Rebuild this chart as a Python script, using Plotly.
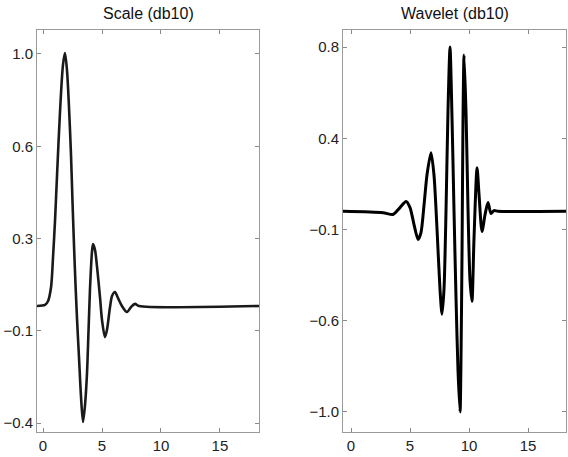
import plotly.graph_objects as go

# Scaling function (db10)
scale_x = [-0.51, 0.17, 0.42, 0.68, 0.85, 1.02, 1.19, 1.44, 1.69, 1.86, 2.03, 2.20, 2.37,
           2.50, 2.63, 2.76, 2.90, 3.05, 3.22, 3.39, 3.56, 3.73, 3.86, 3.98, 4.15, 4.24,
           4.41, 4.58, 4.83, 5.00, 5.25, 5.42, 5.68, 5.85, 6.10, 6.36, 6.69, 7.12, 7.46,
           7.80, 8.14, 18.31]
scale_y = [0.044, 0.048, 0.062, 0.115, 0.230, 0.370, 0.541, 0.780, 0.958, 1.004, 0.940,
           0.800, 0.620, 0.440, 0.270, 0.120, -0.020, -0.150, -0.300, -0.396, -0.332,
           -0.210, -0.047, 0.105, 0.249, 0.279, 0.256, 0.192, 0.078, -0.009, -0.074,
           -0.047, 0.040, 0.082, 0.097, 0.074, 0.044, 0.021, 0.040, 0.052, 0.044, 0.044]

# Wavelet function (db10)
wave_x = [-0.68, 2.71, 3.56, 4.15, 4.66, 5.00, 5.34, 5.68, 5.93, 6.19, 6.44, 6.78, 7.03,
          7.29, 7.54, 7.71, 7.88, 8.05, 8.22, 8.39, 8.56, 8.73, 8.90, 9.07, 9.24, 9.32,
          9.41, 9.49, 9.58, 9.75, 9.92, 10.08, 10.25, 10.42, 10.68, 10.85, 11.10, 11.36,
          11.61, 11.86, 12.12, 12.46, 18.22]
wave_y = [-0.010, -0.017, -0.026, 0.008, 0.038, 0.008, -0.076, -0.149, -0.115, 0.022,
          0.170, 0.279, 0.170, -0.100, -0.395, -0.518, -0.395, -0.012, 0.490, 0.800,
          0.450, -0.012, -0.441, -0.800, -1.000, -0.740, -0.200, 0.441, 0.761, 0.470,
          -0.012, -0.346, -0.454, -0.149, 0.205, 0.072, -0.110, -0.026, 0.033, -0.021,
          -0.007, -0.010, -0.010]

x_tick_vals = [0, 5, 10, 15]
x_tick_text = ["0", "5", "10", "15"]
scale_ytick_vals = [-0.4, -0.05, 0.3, 0.65, 1.0]
scale_ytick_text = ["\u22120.4", "\u22120.1", "0.3", "0.6", "1.0"]
wave_ytick_vals = [-1.0, -0.55, -0.1, 0.35, 0.8]
wave_ytick_text = ["\u22121.0", "\u22120.6", "\u22120.1", "0.4", "0.8"]
titles = ["Scale (db10)", "Wavelet (db10)"]

W, H = 568, 457
fig = go.Figure()
fig.add_trace(go.Scatter(x=scale_x, y=scale_y, mode="lines",
                         line=dict(color="#1a1a1a", width=2.6, shape="spline", smoothing=0.8),
                         xaxis="x", yaxis="y", showlegend=False, hoverinfo="skip"))
fig.add_trace(go.Scatter(x=wave_x, y=wave_y, mode="lines",
                         line=dict(color="#000000", width=3, shape="spline", smoothing=0.7),
                         xaxis="x2", yaxis="y2", showlegend=False, hoverinfo="skip"))

axis_common = dict(showline=True, linecolor="#9a9a9a", linewidth=1, mirror="allticks",
                   ticks="inside", ticklen=4, tickcolor="#8a8a8a", showgrid=False,
                   zeroline=False, tickfont=dict(size=15, color="#222"))

ydom = [1 - 432 / H, 1 - 30 / H]
fig.update_layout(
    width=W, height=H, margin=dict(l=0, r=0, t=0, b=0),
    paper_bgcolor="white", plot_bgcolor="white",
    font=dict(family="Liberation Sans, Arial, sans-serif", size=15, color="#222"),
    xaxis=dict(domain=[37 / W, 259 / W], range=[-0.51, 18.31], anchor="y",
               tickvals=x_tick_vals, ticktext=x_tick_text, **axis_common),
    yaxis=dict(domain=ydom, range=[-0.434, 1.091], anchor="x",
               tickvals=scale_ytick_vals, ticktext=scale_ytick_text, **axis_common),
    xaxis2=dict(domain=[343 / W, 566 / W], range=[-0.68, 18.22], anchor="y2",
                tickvals=x_tick_vals, ticktext=x_tick_text, **axis_common),
    yaxis2=dict(domain=ydom, range=[-1.099, 0.884], anchor="x2",
                tickvals=wave_ytick_vals, ticktext=wave_ytick_text, **axis_common),
)
fig.add_annotation(text=titles[0], x=(37 + 259) / 2 / W, y=1 - 14 / H, xref="paper", yref="paper",
                   showarrow=False, font=dict(size=16, color="#111"),
                   xanchor="center", yanchor="middle")
fig.add_annotation(text=titles[1], x=(343 + 566) / 2 / W, y=1 - 14 / H, xref="paper", yref="paper",
                   showarrow=False, font=dict(size=16, color="#111"),
                   xanchor="center", yanchor="middle")

fig.write_html("out.html", config={"displayModeBar": False},
               post_script="document.body.style.margin='0';")
